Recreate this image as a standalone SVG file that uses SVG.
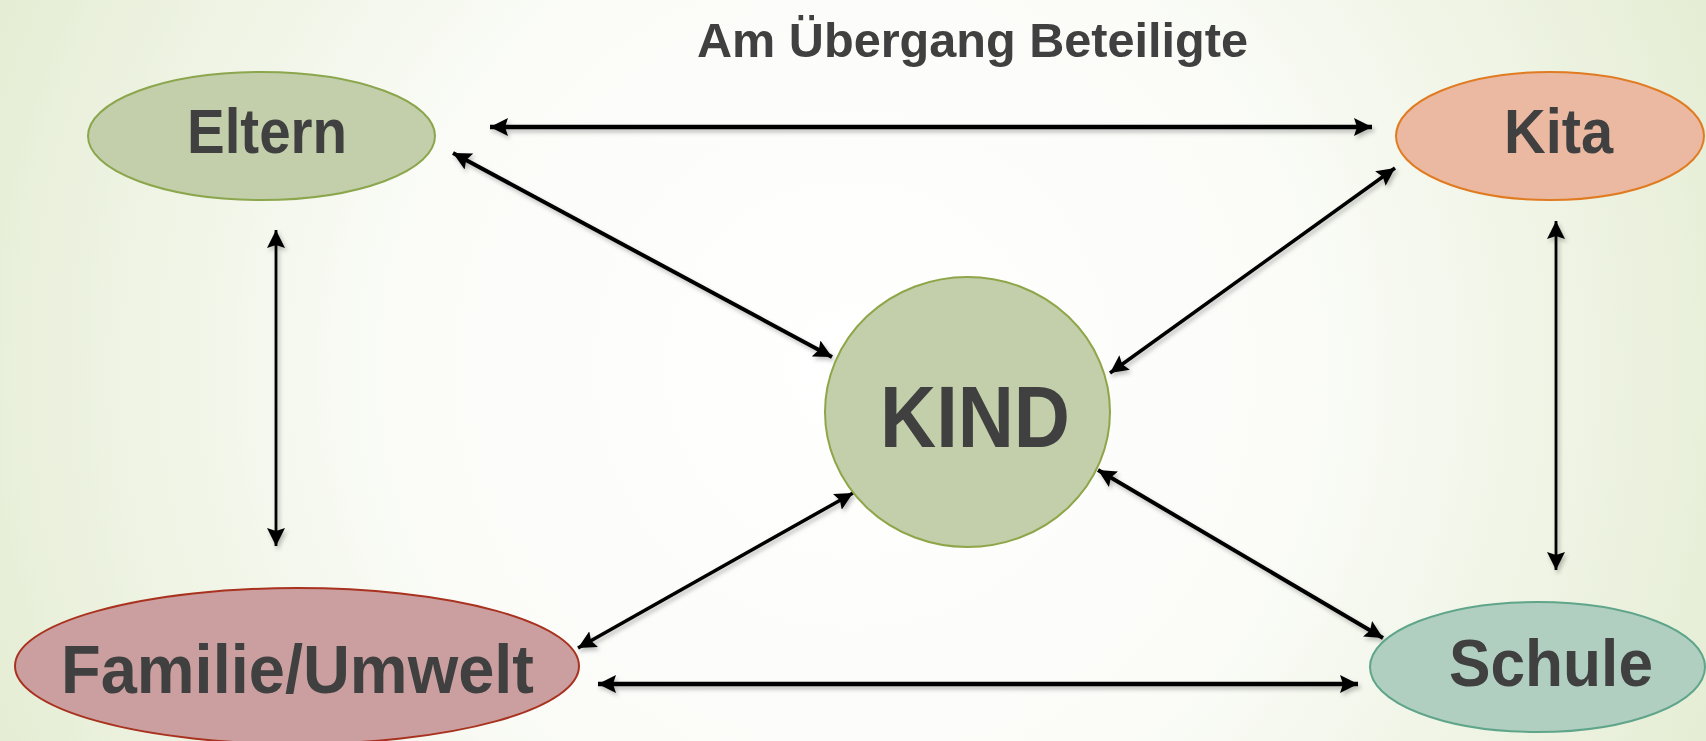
<svg xmlns="http://www.w3.org/2000/svg" width="1706" height="741" viewBox="0 0 1706 741">
<style>
.lbl{font-family:"Liberation Sans",Arial,sans-serif;font-weight:bold;fill:#404040}
.c{fill:none;stroke:#000;marker-start:url(#ah);marker-end:url(#ah)}
.n{stroke-width:2}
</style>
<defs>
<radialGradient id="bg" cx="853" cy="370" r="1000" gradientUnits="userSpaceOnUse">
<stop offset="0" stop-color="#ffffff"/>
<stop offset="0.45" stop-color="#fbfcf8"/>
<stop offset="1" stop-color="#e2ebcf"/>
</radialGradient>
<marker id="ah" viewBox="0 0 18 18" refX="18" refY="9" markerWidth="18" markerHeight="18" markerUnits="userSpaceOnUse" orient="auto-start-reverse">
<path d="M0,0 L18,9 L0,18 L3,9 z" fill="#000"/>
</marker>
<filter id="sh" x="-10%" y="-10%" width="120%" height="120%">
<feDropShadow dx="2" dy="3" stdDeviation="2" flood-color="#000" flood-opacity="0.25"/>
</filter>
</defs>
<rect width="1706" height="741" fill="url(#bg)"/>
<text class="lbl" x="697" y="57" font-size="48" textLength="551" lengthAdjust="spacingAndGlyphs">Am Übergang Beteiligte</text>
<g id="connectors" filter="url(#sh)">
<line class="c" x1="490" y1="127" x2="1372" y2="127" stroke-width="4.5"/>
<line class="c" x1="598" y1="684" x2="1358" y2="684" stroke-width="4.5"/>
<line class="c" x1="276" y1="230" x2="276" y2="546" stroke-width="2.8"/>
<line class="c" x1="1556" y1="221" x2="1556" y2="570" stroke-width="2.8"/>
<line class="c" x1="453" y1="153" x2="832" y2="357" stroke-width="4"/>
<line class="c" x1="1395" y1="168" x2="1110" y2="373" stroke-width="3.5"/>
<line class="c" x1="578" y1="648" x2="853" y2="493" stroke-width="3.5"/>
<line class="c" x1="1098" y1="470" x2="1383" y2="638" stroke-width="4"/>
</g>
<g id="eltern">
<ellipse class="n" cx="261.5" cy="136" rx="173.5" ry="64" fill="#c3cfab" stroke="#8ba64c"/>
<text class="lbl" x="187" y="153" font-size="63" textLength="160" lengthAdjust="spacingAndGlyphs">Eltern</text>
</g>
<g id="kita">
<ellipse class="n" cx="1550" cy="136" rx="154" ry="64" fill="#ebb9a1" stroke="#e07b22"/>
<text class="lbl" x="1504" y="153" font-size="63" textLength="109" lengthAdjust="spacingAndGlyphs">Kita</text>
</g>
<g id="kind">
<ellipse class="n" cx="967.5" cy="412" rx="142.5" ry="135" fill="#c2cfaa" stroke="#8ea548"/>
<text class="lbl" x="880" y="447" font-size="87" textLength="190" lengthAdjust="spacingAndGlyphs">KIND</text>
</g>
<g id="familie">
<ellipse class="n" cx="297" cy="666" rx="282" ry="78" fill="#cb9f9f" stroke="#a8321f"/>
<text class="lbl" x="61" y="693" font-size="68" textLength="473" lengthAdjust="spacingAndGlyphs">Familie/Umwelt</text>
</g>
<g id="schule">
<ellipse class="n" cx="1537.5" cy="667" rx="167.5" ry="65" fill="#b1cfc1" stroke="#5fa58a"/>
<text class="lbl" x="1449" y="686" font-size="66" textLength="204" lengthAdjust="spacingAndGlyphs">Schule</text>
</g>
</svg>
